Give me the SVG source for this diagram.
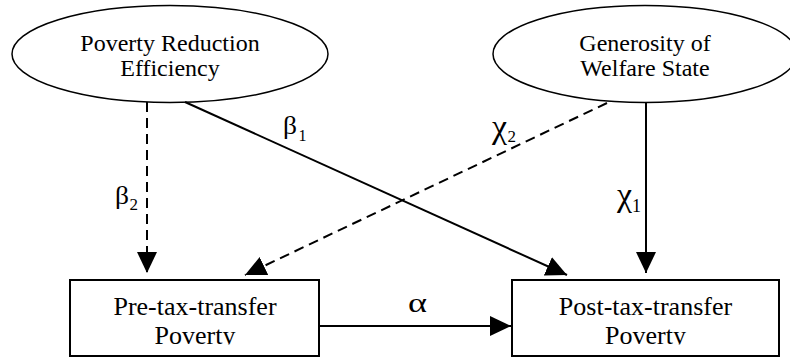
<svg xmlns="http://www.w3.org/2000/svg" width="790" height="358" viewBox="0 0 790 358">
<style>
  .node-shape { fill: #ffffff; stroke: #000000; stroke-width: 2; }
  .ell { fill: #ffffff; stroke: #000000; stroke-width: 1.5; }
  text { font-family: 'Liberation Serif', 'Times New Roman', serif; fill: #000000; }
  .lbl { text-anchor: middle; }
  .ell-txt { font-size: 24px; }
  .box-txt { font-size: 26px; }
  .edge { fill: none; stroke: #000000; stroke-width: 2; }
  .dashed { stroke-dasharray: 10 6; }
</style>
<defs>
  <marker id="arrow" markerUnits="userSpaceOnUse" markerWidth="22" markerHeight="22" viewBox="0 0 22 22" refX="21" refY="11" orient="auto">
    <path d="M0,1 L21,11 L0,21 z" fill="#000000"/>
  </marker>
  <clipPath id="clipPre"><rect x="60" y="279" width="270" height="65.5"/></clipPath>
  <clipPath id="clipPost"><rect x="505" y="279" width="285" height="65.5"/></clipPath>
</defs>
<rect x="0" y="0" width="790" height="358" fill="#ffffff"/>

<g id="node-poverty-reduction">
  <ellipse class="ell" cx="170" cy="54" rx="158" ry="48.5"/>
  <text class="lbl ell-txt" x="170" y="51" font-family="Liberation Serif, serif">Poverty Reduction</text>
  <text class="lbl ell-txt" x="170" y="76" font-family="Liberation Serif, serif">Efficiency</text>
</g>

<g id="node-generosity">
  <ellipse class="ell" cx="645" cy="54" rx="152" ry="48.5"/>
  <text class="lbl ell-txt" x="645" y="51" font-family="Liberation Serif, serif">Generosity of</text>
  <text class="lbl ell-txt" x="645" y="76" font-family="Liberation Serif, serif">Welfare State</text>
</g>

<g id="node-pre-tax">
  <rect class="node-shape" x="70" y="280" width="249" height="76"/>
  <g clip-path="url(#clipPre)">
    <text class="lbl box-txt" x="195" y="315" font-family="Liberation Serif, serif">Pre-tax-transfer</text>
    <text class="lbl box-txt" x="195" y="344" font-family="Liberation Serif, serif">Poverty</text>
  </g>
</g>

<g id="node-post-tax">
  <rect class="node-shape" x="512" y="280" width="267" height="76"/>
  <g clip-path="url(#clipPost)">
    <text class="lbl box-txt" x="645.5" y="315" font-family="Liberation Serif, serif">Post-tax-transfer</text>
    <text class="lbl box-txt" x="645.5" y="344" font-family="Liberation Serif, serif">Poverty</text>
  </g>
</g>

<g id="connectors">
  <line class="edge dashed" x1="147" y1="102" x2="147" y2="273" marker-end="url(#arrow)"/>
  <line class="edge" x1="185" y1="102" x2="567" y2="275" marker-end="url(#arrow)"/>
  <line class="edge dashed" x1="607" y1="103" x2="245" y2="275" marker-end="url(#arrow)"/>
  <line class="edge" x1="646" y1="103" x2="646" y2="273" marker-end="url(#arrow)"/>
  <line class="edge" x1="320" y1="326" x2="511" y2="326" marker-end="url(#arrow)"/>
</g>

<g id="edge-labels">
  <text x="283" y="134" font-size="25" textLength="14" lengthAdjust="spacingAndGlyphs">β</text>
  <text x="298.5" y="141" font-size="16">1</text>
  <text x="115" y="204" font-size="25" textLength="14" lengthAdjust="spacingAndGlyphs">β</text>
  <text x="129.5" y="210" font-size="17">2</text>
  <text x="492" y="138" font-size="33" textLength="15" lengthAdjust="spacingAndGlyphs">χ</text>
  <text x="507.5" y="142" font-size="17">2</text>
  <text x="617" y="206" font-size="33" textLength="15" lengthAdjust="spacingAndGlyphs">χ</text>
  <text x="632" y="212" font-size="18">1</text>
  <text x="408" y="312" font-size="27" textLength="19" lengthAdjust="spacingAndGlyphs">α</text>
</g>
</svg>
